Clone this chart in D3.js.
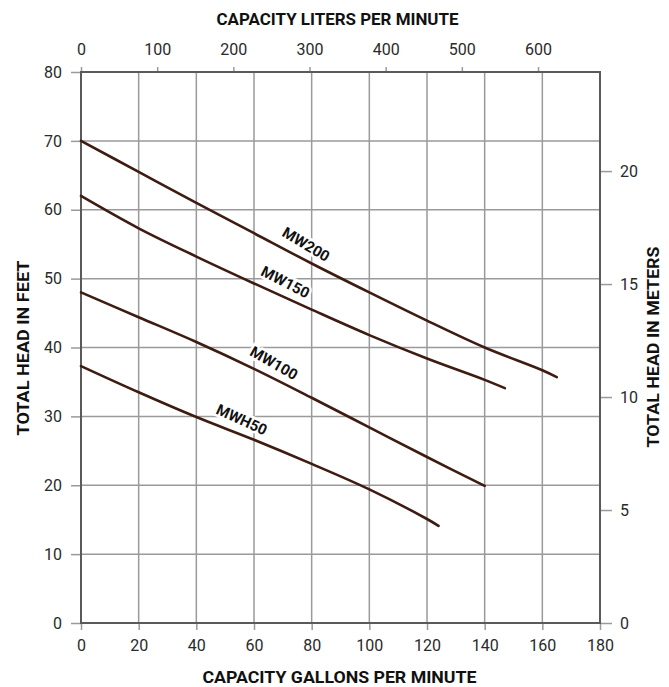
<!DOCTYPE html>
<html lang="en">
<head>
    <meta charset="UTF-8">
    <title>Pump performance curves</title>
    <style>
        body {
            margin: 0;
            background: #fff;
        }

        svg {
            display: block;
            font-family: Roboto, 'DejaVu Sans', sans-serif;
        }

        .tick-label {
            font-size: 16px;
            fill: #2a2a2a;
        }

        .axis-title {
            font-size: 16px;
            font-weight: bold;
            fill: #111;
        }

        .grid line {
            stroke: #9a9a9a;
            stroke-width: 1.5;
        }

        .frame {
            fill: none;
            stroke: #5a5a5a;
            stroke-width: 2;
        }

        .curve {
            fill: none;
            stroke: #3e1c12;
            stroke-width: 2.6;
            stroke-linecap: round;
        }

        .curve-label {
            font-size: 15px;
            font-weight: bold;
            fill: #111;
            stroke: #fff;
            stroke-width: 5;
            paint-order: stroke;
        }
    </style>
</head>
<body>
    <div id="chart"></div>

    <script src="https://d3js.org/d3.v7.min.js"></script>
    <script>
        // values (gallons per minute vs feet of head)
        const mw200Gpm = [0, 20, 40, 60, 80, 100, 120, 140, 160, 165];
        const mw200Feet = [70, 65.5, 61, 56.6, 52.2, 48, 43.9, 40, 36.7, 35.7];

        const mw150Gpm = [0, 20, 40, 60, 80, 100, 120, 140, 147];
        const mw150Feet = [62, 57.3, 53.2, 49.3, 45.5, 41.8, 38.4, 35.3, 34.1];

        const mw100Gpm = [0, 20, 40, 60, 80, 100, 120, 140];
        const mw100Feet = [48, 44.4, 40.8, 36.9, 32.7, 28.4, 24.1, 19.9];

        const mwh50Gpm = [0, 20, 40, 60, 80, 100, 120, 124];
        const mwh50Feet = [37.3, 33.5, 29.9, 26.6, 23.1, 19.4, 15.1, 14.1];

        const seriesNames = ["MW200", "MW150", "MW100", "MWH50"];
        // gpm where each name sits along its curve
        const labelAtGpm = [75.5, 68.6, 64.5, 53.7];

        const gpmTicks = [0, 20, 40, 60, 80, 100, 120, 140, 160, 180];
        const feetTicks = [0, 10, 20, 30, 40, 50, 60, 70, 80];
        const literTicks = [0, 100, 200, 300, 400, 500, 600];
        const meterTicks = [0, 5, 10, 15, 20];

        const titleBottom = "CAPACITY GALLONS PER MINUTE";
        const titleTop = "CAPACITY LITERS PER MINUTE";
        const titleLeft = "TOTAL HEAD IN FEET";
        const titleRight = "TOTAL HEAD IN METERS";

        const LITERS_PER_GALLON = 3.78541;
        const METERS_PER_FOOT = 0.3048;

        const totalWidth = 669;
        const totalHeight = 687;
        const margin = { top: 72, right: 69, bottom: 64, left: 81 };
        const width = totalWidth - margin.left - margin.right;
        const height = totalHeight - margin.top - margin.bottom;

        const series = [
            { gpm: mw200Gpm, feet: mw200Feet },
            { gpm: mw150Gpm, feet: mw150Feet },
            { gpm: mw100Gpm, feet: mw100Feet },
            { gpm: mwh50Gpm, feet: mwh50Feet }
        ].map((s, i) => ({
            name: seriesNames[i],
            labelAt: labelAtGpm[i],
            points: s.gpm.map((g, j) => ({ gpm: g, feet: s.feet[j] }))
        }));

        const xScale = d3.scaleLinear()
            .domain([0, 180])
            .range([0, width]);

        const xScaleLiters = d3.scaleLinear()
            .domain([0, 180 * LITERS_PER_GALLON])
            .range([0, width]);

        const yScale = d3.scaleLinear()
            .domain([0, 80])
            .range([height, 0]);

        const yScaleMeters = d3.scaleLinear()
            .domain([0, 80 * METERS_PER_FOOT])
            .range([height, 0]);

        const svg = d3.select('#chart')
            .append('svg')
            .attr('width', totalWidth)
            .attr('height', totalHeight);

        const g = svg.append('g')
            .attr('transform', `translate(${margin.left}, ${margin.top})`);

        // grid
        g.append('g')
            .attr('class', 'grid')
            .selectAll('line.v')
            .data(gpmTicks.slice(1, -1))
            .enter()
                .append('line')
                .attr('x1', d => xScale(d))
                .attr('x2', d => xScale(d))
                .attr('y1', 0)
                .attr('y2', height);

        g.select('.grid')
            .selectAll('line.h')
            .data(feetTicks.slice(1, -1))
            .enter()
                .append('line')
                .attr('x1', 0)
                .attr('x2', width)
                .attr('y1', d => yScale(d))
                .attr('y2', d => yScale(d));

        // axes: ticks stick out of the frame, labels set apart from them
        const styleAxis = (sel) => {
            sel.select('.domain').remove();
            sel.selectAll('.tick line').attr('stroke', '#9a9a9a').attr('stroke-width', 1.5);
            sel.selectAll('.tick text').attr('class', 'tick-label').attr('fill', null);
            sel.attr('font-size', null).attr('font-family', null);
        };

        g.append('g')
            .attr('transform', `translate(0, ${height})`)
            .call(d3.axisBottom(xScale).tickValues(gpmTicks).tickSize(7).tickPadding(10))
            .call(styleAxis);

        g.append('g')
            .call(d3.axisTop(xScaleLiters).tickValues(literTicks).tickSize(5).tickPadding(12))
            .call(styleAxis);

        g.append('g')
            .call(d3.axisLeft(yScale).tickValues(feetTicks).tickSize(10).tickPadding(9))
            .call(styleAxis);

        g.append('g')
            .attr('transform', `translate(${width}, 0)`)
            .call(d3.axisRight(yScaleMeters).tickValues(meterTicks).tickSize(12).tickPadding(8))
            .call(styleAxis);

        g.append('rect')
            .attr('class', 'frame')
            .attr('width', width)
            .attr('height', height);

        // curves
        const line = d3.line()
            .x(d => xScale(d.gpm))
            .y(d => yScale(d.feet))
            .curve(d3.curveCatmullRom.alpha(0.5));

        g.selectAll('.curve')
            .data(series)
            .enter()
                .append('path')
                .attr('class', 'curve')
                .attr('d', d => line(d.points));

        // name of each model, laid along its own curve
        const feetAt = (s, gpm) => {
            const gs = s.points.map(p => p.gpm);
            const fs = s.points.map(p => p.feet);
            return d3.scaleLinear().domain(gs).range(fs)(gpm);
        };

        g.selectAll('.curve-label')
            .data(series)
            .enter()
                .append('text')
                .attr('class', 'curve-label')
                .attr('text-anchor', 'middle')
                .attr('transform', d => {
                    const x0 = xScale(d.labelAt - 4), y0 = yScale(feetAt(d, d.labelAt - 4));
                    const x1 = xScale(d.labelAt + 4), y1 = yScale(feetAt(d, d.labelAt + 4));
                    const angle = Math.atan2(y1 - y0, x1 - x0) * 180 / Math.PI;
                    return `translate(${xScale(d.labelAt)}, ${yScale(feetAt(d, d.labelAt))}) rotate(${angle + 3})`;
                })
                .attr('y', -9)
                .text(d => d.name);

        // titles
        const addTitle = (text, x, y, rotate, length) => {
            svg.append('text')
                .attr('class', 'axis-title')
                .attr('text-anchor', 'middle')
                .attr('dominant-baseline', 'central')
                .attr('transform', `translate(${x}, ${y}) rotate(${rotate})`)
                .attr('textLength', length)
                .attr('lengthAdjust', 'spacingAndGlyphs')
                .text(text);
        };

        addTitle(titleTop, margin.left + width / 2 - 3, 19, 0, 242);
        addTitle(titleBottom, margin.left + width / 2 - 1, 677, 0, 274);
        addTitle(titleLeft, 23, 348, -90, 175);
        addTitle(titleRight, 653, 347, -90, 201);
    </script>
</body>
</html>
